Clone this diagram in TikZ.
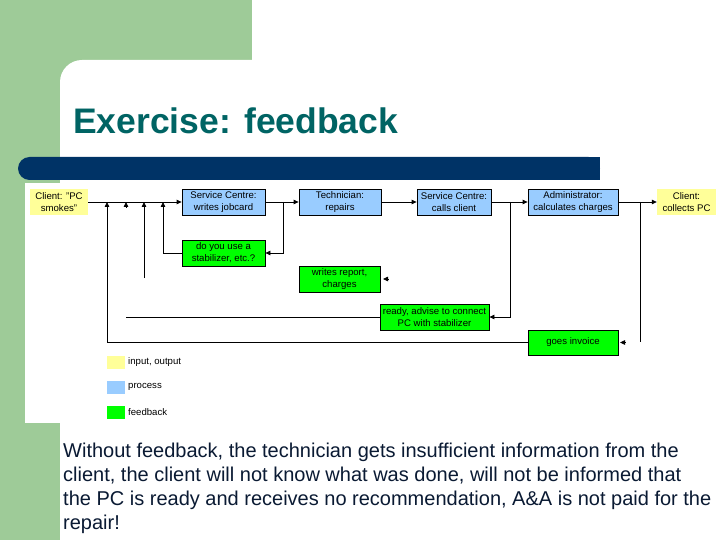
\documentclass[tikz,border=0pt]{standalone}
\usepackage{fontspec}
\setmainfont{Liberation Sans}
\usetikzlibrary{arrows.meta}
\definecolor{slidegreen}{HTML}{9ECB98}
\definecolor{barblue}{HTML}{003366}
\definecolor{titleteal}{HTML}{006464}
\definecolor{bodynavy}{HTML}{0A1A33}
\definecolor{ioyellow}{HTML}{FFFF99}
\definecolor{procblue}{HTML}{99CCFF}
\definecolor{fbgreen}{HTML}{00FF00}
\begin{document}
\begin{tikzpicture}[x=1pt,y=-1pt,
 box/.style={inner sep=0pt, minimum height=26pt, align=center, font=\fontsize{9.6}{12}\selectfont},
 iobox/.style={box, fill=ioyellow},
 procbox/.style={box, fill=procblue, draw=black, line width=0.8pt},
 fbbox/.style={box, fill=fbgreen, draw=black, line width=0.8pt},
 flow/.style={line width=0.8pt, -{Triangle[length=5pt,width=4.5pt]}},
 plainline/.style={line width=0.8pt},
 swatch/.style={inner sep=0pt, minimum width=18pt, minimum height=12.5pt, anchor=north west},
 legendtext/.style={anchor=west, inner sep=0pt, font=\fontsize{9.6}{12}\selectfont}
]
\useasboundingbox (0,0) rectangle (720,540);
\fill[white] (0,0) rectangle (720,540);
% slide background
\fill[slidegreen] (0,0) rectangle (252,60);
\fill[slidegreen] (0,0) rectangle (80,540);
\fill[white, rounded corners=22pt] (60,60) rectangle (780,600);
\fill[white] (25,183) rectangle (720,423);
% title bar
\fill[barblue, rounded corners=11.5pt] (18,157) rectangle (600,180);
\fill[barblue] (580,157) rectangle (600,180);
% title
\node[anchor=base west, inner sep=0pt, font=\fontsize{35.5}{40}\selectfont\bfseries, text=titleteal] (title) at (73,133.5) {Exercise: feedback};

% boxes
\node[iobox, minimum width=58pt] (cl1) at (59,202) {Client: "PC\\smokes"};
\node[procbox, minimum width=83pt] (sc1) at (223.5,202) {Service Centre:\\writes jobcard};
\node[procbox, minimum width=82pt] (tech) at (340,202) {Technician:\\repairs};
\node[procbox, minimum width=74pt] (sc2) at (454,202) {Service Centre:\\calls client};
\node[procbox, minimum width=90pt] (admin) at (573,202) {Administrator:\\calculates charges};
\node[iobox, minimum width=59pt] (cl2) at (686.5,202) {Client:\\collects PC};
\node[fbbox, minimum width=83pt] (stab) at (223.5,253) {do you use a\\stabilizer, etc.?};
\node[fbbox, minimum width=81pt] (rep) at (339.5,279) {writes report,\\charges};
\node[fbbox, minimum width=109pt] (ready) at (434.5,317) {ready, advise to connect\\PC with stabilizer};
\node[fbbox, minimum width=90pt, minimum height=25pt] (inv) at (573,342.5) {goes invoice};

% coordinates
\coordinate (b1) at (283,202);
\coordinate (b2) at (510,202);
\coordinate (b3) at (640,202);
\coordinate (b3end) at (640,342);
\coordinate (u1) at (107,202);
\coordinate (u2) at (126,202);
\coordinate (u2s) at (126,207);
\coordinate (u3) at (144,202);
\coordinate (u3end) at (144,278);
\coordinate (u4) at (163,202);
\coordinate (readyend) at (126,317);
\coordinate (reptip) at (383,279);
\coordinate (reptail) at (388,279);
\coordinate (invtip) at (620,342.5);
\coordinate (invtail) at (625,342.5);

% main flow
\draw[flow] (cl1.east) -- (sc1.west);
\draw[flow] (sc1.east) -- (tech.west);
\draw[flow] (tech.east) -- (sc2.west);
\draw[flow] (sc2.east) -- (admin.west);
\draw[flow] (admin.east) -- (cl2.west);
% branches to feedback
\draw[flow] (b1) |- (stab.east);
\draw[flow] (b2) |- (ready.east);
\draw[plainline] (b3) -- (b3end);
\draw[flow] (invtail) -- (invtip);
\draw[flow] (reptail) -- (reptip);
% feedback returns
\draw[flow] (stab.west) -| (u4);
\draw[flow] (u3end) -- (u3);
\draw[flow] (u2s) -- (u2);
\draw[flow] (inv.west) -| (u1);
\draw[plainline] (ready.west) -- (readyend);

% legend
\node[swatch, fill=ioyellow] (lg1) at (107,356) {};
\node[swatch, fill=procblue] (lg2) at (107,381) {};
\node[swatch, fill=fbgreen] (lg3) at (107,406) {};
\node[legendtext] (lt1) at (128,362) {input, output};
\node[legendtext] (lt2) at (128,387) {process};
\node[legendtext] (lt3) at (128,412.5) {feedback};

% body text
\node[anchor=north west, inner sep=0pt, align=left, text=bodynavy, font=\fontsize{20}{24}\selectfont] (body) at (63,442.5)
{Without feedback, the technician gets insufficient information from the\\
client, the client will not know what was done, will not be informed that\\
the PC is ready and receives no recommendation, A\&A is not paid for the\\
repair!};
\end{tikzpicture}
\end{document}
